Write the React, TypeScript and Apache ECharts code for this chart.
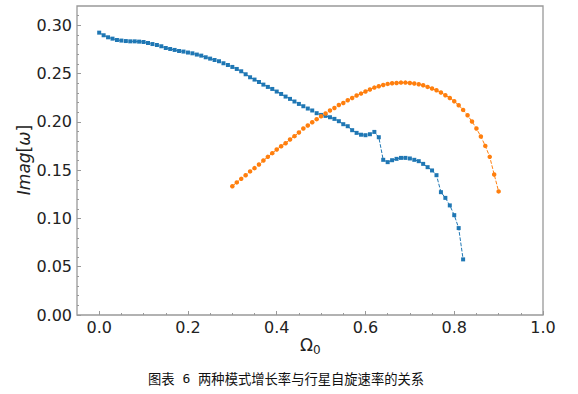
import React, { useEffect, useRef } from 'react';
import * as echarts from 'echarts';

const blueX = [
  0.0, 0.01, 0.02, 0.03, 0.04, 0.05, 0.06, 0.07, 0.08, 0.09,
  0.1, 0.11, 0.12, 0.13, 0.14, 0.15, 0.16, 0.17, 0.18, 0.19,
  0.2, 0.21, 0.22, 0.23, 0.24, 0.25, 0.26, 0.27, 0.28, 0.29,
  0.3, 0.31, 0.32, 0.33, 0.34, 0.35, 0.36, 0.37, 0.38, 0.39,
  0.4, 0.41, 0.42, 0.43, 0.44, 0.45, 0.46, 0.47, 0.48, 0.49,
  0.5, 0.51, 0.52, 0.53, 0.54, 0.55, 0.56, 0.57, 0.58, 0.59,
  0.6, 0.61, 0.62, 0.63, 0.64, 0.65, 0.66, 0.67, 0.68, 0.69,
  0.7, 0.71, 0.72, 0.73, 0.74, 0.75, 0.76, 0.77, 0.78, 0.79,
  0.8, 0.81, 0.82,
];
const blueY = [
  0.2924, 0.2897, 0.2876, 0.2862, 0.2848, 0.2842, 0.2837, 0.2834, 0.2834, 0.2831,
  0.2827, 0.2817, 0.2806, 0.2796, 0.2783, 0.2765, 0.2755, 0.2745, 0.2734, 0.2728,
  0.2718, 0.271, 0.2697, 0.2686, 0.2669, 0.2655, 0.2641, 0.2628, 0.2607, 0.2589,
  0.2569, 0.2548, 0.2524, 0.2493, 0.2462, 0.2438, 0.2413, 0.2386, 0.2362, 0.2341,
  0.2314, 0.2289, 0.2262, 0.2238, 0.2211, 0.2186, 0.2162, 0.2138, 0.2118, 0.209,
  0.2072, 0.2062, 0.2048, 0.2031, 0.2007, 0.1976, 0.1955, 0.1914, 0.1886, 0.1867,
  0.1862, 0.1872, 0.1896, 0.1841, 0.1607, 0.1583, 0.1603, 0.1617, 0.1627, 0.1627,
  0.1621, 0.1607, 0.1593, 0.1565, 0.1531, 0.1497, 0.1448, 0.1272, 0.1213, 0.1135,
  0.1034, 0.09, 0.0576,
];
const orangeX = [
  0.3, 0.31, 0.32, 0.33, 0.34, 0.35, 0.36, 0.37, 0.38, 0.39,
  0.4, 0.41, 0.42, 0.43, 0.44, 0.45, 0.46, 0.47, 0.48, 0.49,
  0.5, 0.51, 0.52, 0.53, 0.54, 0.55, 0.56, 0.57, 0.58, 0.59,
  0.6, 0.61, 0.62, 0.63, 0.64, 0.65, 0.66, 0.67, 0.68, 0.69,
  0.7, 0.71, 0.72, 0.73, 0.74, 0.75, 0.76, 0.77, 0.78, 0.79,
  0.8, 0.81, 0.82, 0.83, 0.84, 0.85, 0.86, 0.87, 0.88, 0.89,
  0.9,
];
const orangeY = [
  0.1334, 0.1373, 0.141, 0.1448, 0.1487, 0.1521, 0.1559, 0.16, 0.1638, 0.1676,
  0.1714, 0.1748, 0.1779, 0.1818, 0.1852, 0.189, 0.1931, 0.1962, 0.1996, 0.2028,
  0.2059, 0.2087, 0.2118, 0.2144, 0.2175, 0.2196, 0.2224, 0.2248, 0.2273, 0.2293,
  0.2314, 0.2335, 0.2355, 0.2369, 0.2382, 0.2393, 0.24, 0.2403, 0.2407, 0.2407,
  0.2403, 0.2397, 0.239, 0.2379, 0.2362, 0.2345, 0.2328, 0.2304, 0.2276, 0.2248,
  0.2214, 0.2172, 0.2124, 0.2069, 0.2004, 0.1931, 0.1849, 0.1751, 0.1638, 0.1455,
  0.128,
];

const xMajorTicks = [0.0, 0.2, 0.4, 0.6, 0.8, 1.0];
const xMinorTicks = [0.05, 0.1, 0.15, 0.25, 0.3, 0.35, 0.45, 0.5, 0.55, 0.65, 0.7, 0.75, 0.85, 0.9, 0.95];
const yMajorTicks = [0.0, 0.05, 0.1, 0.15, 0.2, 0.25, 0.3];
const yMinorTicks = [
  0.01, 0.02, 0.03, 0.04, 0.06, 0.07, 0.08, 0.09, 0.11, 0.12, 0.13, 0.14,
  0.16, 0.17, 0.18, 0.19, 0.21, 0.22, 0.23, 0.24, 0.26, 0.27, 0.28, 0.29, 0.31,
];

const captionHead = '图表';
const captionNum = ' 6 ';
const captionBody = '两种模式增长率与行星自旋速率的关系';

const SPINE = '#999';
const BLUE = '#1f77b4';
const ORANGE = '#ff7f0e';

export default function App() {
  const ref = useRef<HTMLDivElement>(null);
  useEffect(() => {
    const chart = echarts.init(ref.current!, null, { renderer: 'svg' });
    const X_MIN = -0.05, X_MAX = 1.0, Y_MIN = 0, Y_MAX = 0.32;
    const labelStyle = { fontFamily: 'DejaVu Sans', fontSize: 16, color: '#222' };
    const hiddenLine = { show: false, onZero: false };
    chart.setOption({
      animation: false,
      backgroundColor: '#fff',
      grid: {
        left: 77, right: 35, top: 6, bottom: 79,
        show: true, borderColor: SPINE, borderWidth: 1.3, backgroundColor: 'transparent',
      },
      xAxis: [
        {
          type: 'value', min: X_MIN, max: X_MAX, position: 'bottom',
          axisLine: hiddenLine,
          splitLine: { show: false },
          axisTick: { show: true, inside: true, length: 4, customValues: xMajorTicks, lineStyle: { color: SPINE, width: 1 } },
          axisLabel: { ...labelStyle, margin: 4, customValues: xMajorTicks, formatter: (v: number) => v.toFixed(1) },
        },
        {
          type: 'value', min: X_MIN, max: X_MAX, position: 'bottom',
          axisLine: hiddenLine,
          splitLine: { show: false },
          axisTick: { show: true, inside: true, length: 2, customValues: xMinorTicks, lineStyle: { color: SPINE, width: 1 } },
          axisLabel: { show: false },
        },
      ],
      yAxis: [
        {
          type: 'value', min: Y_MIN, max: Y_MAX, position: 'left',
          axisLine: hiddenLine,
          splitLine: { show: false },
          axisTick: { show: true, inside: true, length: 4, customValues: yMajorTicks, lineStyle: { color: SPINE, width: 1 } },
          axisLabel: { ...labelStyle, margin: 5, customValues: yMajorTicks, formatter: (v: number) => v.toFixed(2) },
        },
        {
          type: 'value', min: Y_MIN, max: Y_MAX, position: 'left',
          axisLine: hiddenLine,
          splitLine: { show: false },
          axisTick: { show: true, inside: true, length: 2, customValues: yMinorTicks, lineStyle: { color: SPINE, width: 1 } },
          axisLabel: { show: false },
        },
      ],
      graphic: [
        {
          type: 'text', x: 23.5, y: 160, rotation: Math.PI / 2,
          style: {
            text: '{i|Imag}{n|[}{i|ω}{n|]}',
            align: 'center', verticalAlign: 'middle',
            fill: '#222',
            rich: {
              i: { fontFamily: 'DejaVu Sans', fontStyle: 'italic', fontSize: 17, fill: '#222' },
              n: { fontFamily: 'DejaVu Sans', fontSize: 17, fill: '#222' },
            },
          },
        },
        {
          type: 'text', x: 313, y: 353,
          style: { text: 'Ω', align: 'right', verticalAlign: 'bottom', fontFamily: 'DejaVu Sans', fontSize: 17, fill: '#222' },
        },
        {
          type: 'text', x: 313, y: 356,
          style: { text: '0', align: 'left', verticalAlign: 'bottom', fontFamily: 'DejaVu Sans', fontSize: 12, fill: '#222' },
        },
        {
          type: 'text', x: 148, y: 378,
          style: {
            text: `{c|${captionHead}}{d|${captionNum}}{c|${captionBody}}`,
            align: 'left', verticalAlign: 'middle',
            fill: '#111',
            rich: {
              c: { fontFamily: 'Noto Sans CJK SC', fontSize: 13.3, fill: '#111' },
              d: { fontFamily: 'DejaVu Sans Mono', fontSize: 13, fill: '#111' },
            },
          },
        },
      ],
      series: [
        {
          type: 'line', xAxisIndex: 0, yAxisIndex: 0,
          data: blueX.map((x, i) => [x, blueY[i]]),
          symbol: 'rect', symbolSize: 4, showAllSymbol: true,
          lineStyle: { color: BLUE, width: 1, type: [3.7, 1.6] },
          itemStyle: { color: BLUE },
        },
        {
          type: 'line', xAxisIndex: 0, yAxisIndex: 0,
          data: orangeX.map((x, i) => [x, orangeY[i]]),
          symbol: 'circle', symbolSize: 4.5, showAllSymbol: true,
          lineStyle: { color: ORANGE, width: 1, type: [3.7, 1.6] },
          itemStyle: { color: ORANGE },
        },
      ],
    });
    return () => chart.dispose();
  }, []);
  return (
    <div
      ref={ref}
      style={{ position: 'fixed', left: 0, top: 0, width: 578, height: 394, background: '#fff' }}
    />
  );
}
